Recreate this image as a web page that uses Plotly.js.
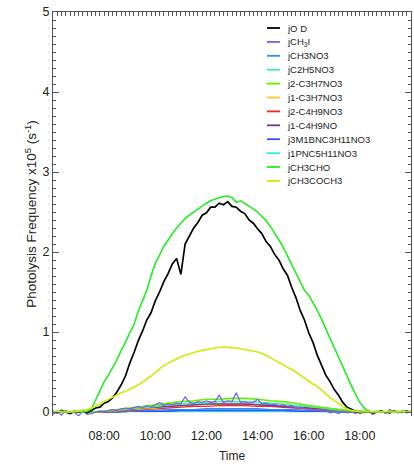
<!DOCTYPE html>
<html>
<head>
<meta charset="utf-8">
<script src="https://cdn.plot.ly/plotly-3.0.1.min.js"></script>
<style>html,body{margin:0;padding:0;background:#fff;}#chart{width:414px;height:464px;}</style>
</head>
<body>
<div id="chart"></div>
<script>
// ---------- DATA ----------
const day = '2020-01-01 ';
// 10-minute time stamps, 06:00 .. 20:00
const time10 = ['06:00','06:10','06:20','06:30','06:40','06:50','07:00','07:10','07:20','07:30','07:40','07:50',
'08:00','08:10','08:20','08:30','08:40','08:50','09:00','09:10','09:20','09:30','09:40','09:50',
'10:00','10:10','10:20','10:30','10:40','10:50','11:00','11:10','11:20','11:30','11:40','11:50',
'12:00','12:10','12:20','12:30','12:40','12:50','13:00','13:10','13:20','13:30','13:40','13:50',
'14:00','14:10','14:20','14:30','14:40','14:50','15:00','15:10','15:20','15:30','15:40','15:50',
'16:00','16:10','16:20','16:30','16:40','16:50','17:00','17:10','17:20','17:30','17:40','17:50',
'18:00','18:10','18:20','18:30','18:40','18:50','19:00','19:10','19:20','19:30','19:40','19:50','20:00'];
// 30-minute time stamps, 06:00 .. 20:00
const time30 = ['06:00','06:30','07:00','07:30','08:00','08:30','09:00','09:30','10:00','10:30','11:00','11:30',
'12:00','12:30','13:00','13:30','14:00','14:30','15:00','15:30','16:00','16:30','17:00','17:30',
'18:00','18:30','19:00','19:30','20:00'];

const jO1D = [0.01,-0.01,0.02,0.00,-0.02,0.01,0.00,0.02,-0.01,0.02,0.05,0.06,
0.11,0.13,0.18,0.25,0.34,0.45,0.61,0.74,0.89,1.01,1.15,1.24,
1.39,1.50,1.63,1.73,1.85,1.92,1.72,2.10,2.21,2.30,2.37,2.46,
2.49,2.56,2.56,2.61,2.59,2.63,2.57,2.56,2.51,2.48,2.40,2.36,
2.29,2.23,2.13,2.07,1.97,1.90,1.79,1.71,1.56,1.43,1.27,1.15,
0.99,0.87,0.71,0.59,0.46,0.38,0.28,0.21,0.12,0.06,0.03,0.01,
-0.01,0.00,0.01,-0.01,0.00,0.01,0.00,-0.01,0.01,0.00,0.00,0.01,0.00];

const jCH3I = [-0.03,0.01,-0.04,0.02,-0.02,0.00,-0.05,0.01,-0.03,-0.02,0.00,0.01,
0.00,0.02,0.03,0.02,0.04,0.05,0.04,0.06,0.07,0.05,0.08,0.06,
0.09,0.12,0.08,0.10,0.09,0.11,0.10,0.19,0.12,0.11,0.13,0.12,
0.14,0.12,0.13,0.21,0.12,0.14,0.13,0.24,0.12,0.13,0.11,0.12,
0.16,0.10,0.11,0.09,0.10,0.08,0.09,0.07,0.08,0.05,0.06,0.04,
0.03,0.02,0.03,0.01,0.02,-0.01,0.00,-0.02,0.01,-0.01,0.00,-0.02,
0.01,-0.01,0.02,-0.03,0.00,0.01,-0.02,0.03,0.00,-0.01,0.02,-0.01,0.00];

const jCH3NO3      = [0,0,0,0,0,0.01,0.01,0.02,0.02,0.03,0.03,0.03,0.04,0.04,0.04,0.04,0.04,0.03,0.03,0.03,0.02,0.02,0.01,0.01,0,0,0,0,0];
const jC2H5NO3     = [0,0,0,0,0.01,0.02,0.04,0.05,0.07,0.09,0.10,0.11,0.12,0.13,0.13,0.13,0.12,0.11,0.10,0.08,0.07,0.05,0.03,0.02,0.01,0,0,0,0];
const j2C3H7NO3    = [0,0,0,0,0.01,0.03,0.05,0.07,0.09,0.11,0.13,0.14,0.16,0.16,0.17,0.17,0.16,0.14,0.13,0.11,0.08,0.06,0.04,0.02,0.01,0,0,0,0];
const j1C3H7NO3    = [0,0,0,0,0.01,0.02,0.03,0.04,0.05,0.07,0.08,0.09,0.09,0.10,0.10,0.10,0.09,0.09,0.08,0.06,0.05,0.04,0.02,0.01,0,0,0,0,0];
const j2C4H9NO3    = [0,0,0,0,0,0.01,0.02,0.03,0.04,0.05,0.06,0.07,0.07,0.08,0.08,0.08,0.07,0.07,0.06,0.05,0.04,0.03,0.02,0.01,0,0,0,0,0];
const j1C4H9NO     = [0,0,0,0,0.01,0.02,0.03,0.05,0.06,0.07,0.08,0.09,0.10,0.10,0.10,0.10,0.09,0.08,0.07,0.06,0.05,0.04,0.02,0.01,0,0,0,0,0];
const j3M1BNC3H11NO3 = [0,0,0,0,0,0,0.01,0.01,0.01,0.01,0.02,0.02,0.02,0.02,0.02,0.02,0.02,0.02,0.02,0.01,0.01,0.01,0.01,0,0,0,0,0,0];
const j1PNC5H11NO3 = [0,0,0,0,0,0,0.01,0.01,0.01,0.01,0.01,0.01,0.01,0.01,0.01,0.01,0.01,0.01,0.01,0.01,0.01,0.01,0,0,0,0,0,0,0];

const jCH3CHO = [0.00,0.01,0.00,0.01,0.00,0.00,0.01,0.00,0.01,0.04,0.15,0.27,
0.38,0.46,0.56,0.65,0.77,0.87,0.99,1.09,1.26,1.40,1.52,1.70,
1.86,1.96,2.07,2.15,2.23,2.30,2.36,2.42,2.46,2.50,2.54,2.58,
2.61,2.64,2.66,2.68,2.69,2.70,2.68,2.62,2.64,2.61,2.58,2.54,
2.50,2.45,2.39,2.32,2.24,2.15,2.06,1.95,1.83,1.72,1.61,1.52,
1.46,1.37,1.27,1.16,1.04,0.92,0.80,0.68,0.55,0.44,0.33,0.22,
0.12,0.05,0.01,0.00,0.01,0.00,0.00,0.01,0.00,0.01,0.00,0.00,0.01];

const jCH3COCH3 = [0.00,0.00,0.01,0.00,0.00,0.01,0.01,0.02,0.03,0.05,0.07,0.10,
0.13,0.16,0.19,0.22,0.24,0.26,0.28,0.31,0.34,0.37,0.41,0.45,
0.50,0.54,0.58,0.61,0.64,0.67,0.69,0.71,0.73,0.75,0.76,0.77,
0.78,0.79,0.80,0.81,0.81,0.81,0.80,0.80,0.79,0.78,0.77,0.76,
0.75,0.73,0.71,0.68,0.65,0.62,0.59,0.57,0.54,0.50,0.46,0.42,
0.38,0.35,0.32,0.28,0.23,0.18,0.14,0.11,0.07,0.04,0.02,0.01,
0.00,0.00,0.01,0.00,0.00,0.00,0.01,0.00,0.00,0.00,0.01,0.00,0.00];

const names = ['jO D','jCH<sub>3</sub>I','jCH3NO3','jC2H5NO3','j2-C3H7NO3','j1-C3H7NO3','j2-C4H9NO3',
'j1-C4H9NO','j3M1BNC3H11NO3','j1PNC5H11NO3','jCH3CHO','jCH3COCH3'];
const seriesY = [jO1D, jCH3I, jCH3NO3, jC2H5NO3, j2C3H7NO3, j1C3H7NO3, j2C4H9NO3,
j1C4H9NO, j3M1BNC3H11NO3, j1PNC5H11NO3, jCH3CHO, jCH3COCH3];
const seriesT = [time10, time10, time30, time30, time30, time30, time30,
time30, time30, time30, time10, time10];
const xTicks = ['08:00','10:00','12:00','14:00','16:00','18:00'];
const yTicks = [0,1,2,3,4,5];

// ---------- STYLE ----------
const colors = ['#000000','#7a5cf0','#2a8cff','#3ef0a8','#66f000','#ffc830','#ff2020',
'#6a3a9a','#3050ff','#30f0f0','#22ee22','#ccee00'];
const widths = [1.7,1.2,1.4,1.6,1.6,1.4,1.4,1.4,1.6,2.2,1.6,1.6];

// ---------- DRAW ----------
const drawOrder = [9,8,2,6,5,7,3,4,1,0,10,11];
const traces = drawOrder.map(i => ({
  type: 'scatter', mode: 'lines',
  x: seriesT[i].map(t => day + t),
  y: seriesY[i],
  name: names[i],
  line: {color: colors[i], width: widths[i]},
  showlegend: false,
  hoverinfo: 'skip'
}));

// hand-built compact legend (Plotly's own legend enforces a larger row height)
const plotTop = 12, plotH = 404, plotL = 53, plotW = 358;
const shapes = [], annotations = [];
names.forEach((n, k) => {
  const py = 28 + k * 13.9;
  const yp = (plotTop + plotH - py) / plotH;
  shapes.push({type: 'line', xref: 'paper', yref: 'paper',
    x0: (267 - plotL) / plotW, x1: (280 - plotL) / plotW, y0: yp, y1: yp,
    line: {color: colors[k], width: 1.8}});
  annotations.push({xref: 'paper', yref: 'paper', x: (285 - plotL) / plotW, y: yp,
    xanchor: 'left', yanchor: 'middle', showarrow: false, text: n,
    font: {family: 'Liberation Sans, Arial, sans-serif', size: 9.5, color: '#222'}});
});

const axCol = '#555';
const layout = {
  width: 414, height: 464,
  margin: {l: 53, r: 3, t: 12, b: 48, pad: 0},
  paper_bgcolor: '#ffffff', plot_bgcolor: '#ffffff',
  font: {family: 'Liberation Sans, Arial, sans-serif', color: '#222', size: 12},
  showlegend: false,
  xaxis: {
    type: 'date',
    range: [day + '06:00', day + '20:00'],
    tickvals: xTicks.map(t => day + t), ticktext: xTicks,
    ticks: '', showline: false, showgrid: false, zeroline: false,
    ticklabelstandoff: 10,
    tickfont: {size: 12.5, color: '#222'},
    title: {text: 'Time', font: {size: 12, color: '#222'}, standoff: 10}
  },
  xaxis2: {
    type: 'date', overlaying: 'x', side: 'top',
    range: [day + '06:00', day + '20:00'],
    showline: true, linecolor: axCol, linewidth: 1,
    ticks: 'inside', ticklen: 4, tickcolor: axCol, dtick: 600000, tick0: day + '06:00',
    showticklabels: false, showgrid: false, zeroline: false
  },
  yaxis: {
    range: [-0.05, 5.0],
    tickvals: yTicks, ticktext: yTicks.map(String),
    ticks: 'inside', ticklen: 6, tickcolor: axCol,
    minor: {dtick: 0.1, tick0: 0, ticks: 'inside', ticklen: 3, tickcolor: axCol, showgrid: false},
    showline: true, linecolor: axCol, linewidth: 1,
    showgrid: false, zeroline: false,
    tickfont: {size: 12.5, color: '#222'},
    title: {text: 'Photolysis Frequency x10<sup>5</sup> (s<sup>-1</sup>)', font: {size: 13.5, color: '#222'}, standoff: 2}
  },
  yaxis2: {
    range: [-0.05, 5.0], overlaying: 'y', side: 'right',
    tickvals: yTicks, showticklabels: false,
    ticks: 'inside', ticklen: 6, tickcolor: axCol,
    minor: {dtick: 0.1, tick0: 0, ticks: 'inside', ticklen: 3, tickcolor: axCol, showgrid: false},
    showline: true, linecolor: axCol, linewidth: 1,
    showgrid: false, zeroline: false
  },
  shapes: shapes,
  annotations: annotations
};

// invisible helper traces so the top and right frame axes are drawn
traces.push({type: 'scatter', mode: 'lines', x: [day + '06:00'], y: [0], xaxis: 'x2', yaxis: 'y',
  showlegend: false, hoverinfo: 'skip', line: {width: 0}});
traces.push({type: 'scatter', mode: 'lines', x: [day + '06:00'], y: [0], xaxis: 'x', yaxis: 'y2',
  showlegend: false, hoverinfo: 'skip', line: {width: 0}});

Plotly.newPlot('chart', traces, layout, {staticPlot: true, displayModeBar: false});
</script>
</body>
</html>
